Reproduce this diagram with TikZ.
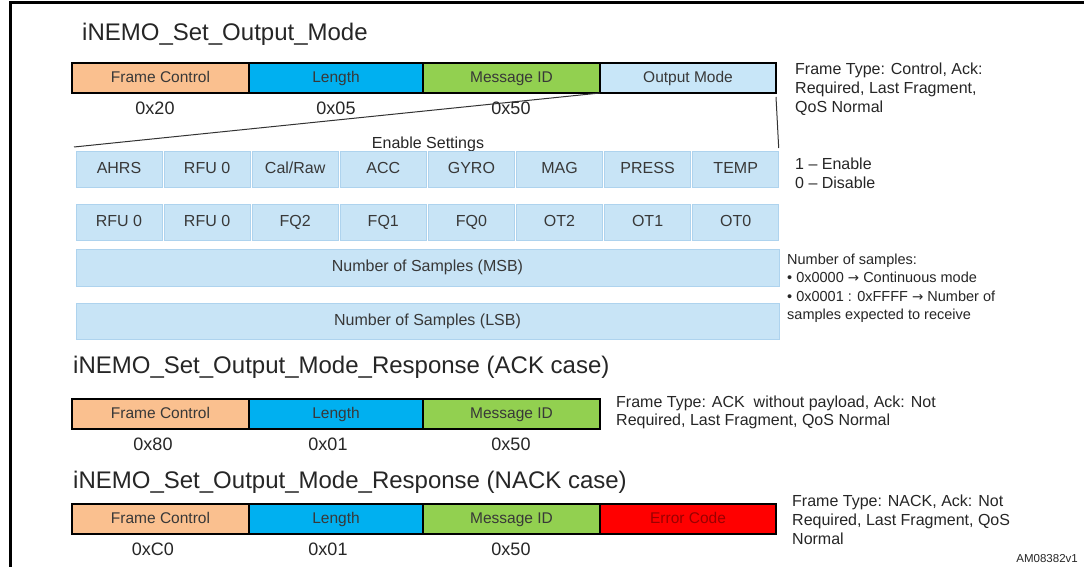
\documentclass[tikz,border=0pt]{standalone}
\usepackage{fontspec}
\setmainfont{Liberation Sans}
\newfontfamily\arrowfont{DejaVu Sans}
\usetikzlibrary{calc}
\definecolor{fcfill}{HTML}{FAC08F}
\definecolor{lenfill}{HTML}{00B0F0}
\definecolor{msgfill}{HTML}{92D050}
\definecolor{outfill}{HTML}{C8E6F8}
\definecolor{cellfill}{HTML}{C8E4F6}
\definecolor{cellborder}{HTML}{AED3EE}
\definecolor{errfill}{HTML}{FF0000}
\definecolor{errtext}{HTML}{9A0000}
\definecolor{labgray}{HTML}{383838}
\definecolor{linegray}{HTML}{333333}
\newcommand{\arr}{{\arrowfont\fontsize{13.5}{14}\selectfont →}}
\begin{document}
\begin{tikzpicture}[x=1pt,y=-1pt,
  seg/.style={draw=black, line width=1.3pt, inner sep=0pt, outer sep=0pt, anchor=north west,
    minimum height=30pt, text height=11.5pt, text depth=3pt, text=labgray, font=\fontsize{15.5}{18}\selectfont},
  cell/.style={draw=cellborder, line width=0.8pt, fill=cellfill, inner sep=0pt, outer sep=0pt,
    anchor=north west, minimum height=36pt, text height=11.5pt, text depth=3pt, text=labgray, font=\fontsize{16}{19}\selectfont},
  ttl/.style={anchor=base west, inner sep=0pt, text=black!85, font=\fontsize{24}{28}\selectfont},
  val/.style={anchor=base, inner sep=0pt, text=black!85, font=\fontsize{18}{21}\selectfont},
  note/.style={anchor=west, inner sep=0pt, align=left, text=black!85, font=\fontsize{16}{19}\selectfont},
  conn/.style={draw=linegray, line width=1pt}]
\useasboundingbox (0,0) rectangle (1084,567);
\fill[white] (0,0) rectangle (1084,567);
% frame border
\draw[line width=3pt] (10.5,567) -- (10.5,3) -- (1084,3);

% ---------- iNEMO_Set_Output_Mode ----------
\node[ttl] (t1) at (82,41) {iNEMO\_Set\_Output\_Mode};
\node[seg, fill=fcfill, minimum width=177pt] (fc1) at (72,63) {Frame Control};
\node[seg, fill=lenfill, minimum width=174pt] (len1) at (249,63) {Length};
\node[seg, fill=msgfill, minimum width=177pt] (msg1) at (423,63) {Message ID};
\node[seg, fill=outfill, minimum width=176pt] (out1) at (600,63) {Output Mode};
\node[val] (v11) at (155,115) {0x20};
\node[val] (v12) at (336,115) {0x05};
\node[val] (v13) at (511,115) {0x50};
\node[note] (n1) at (795,89) {Frame Type: Control, Ack:\\Required, Last Fragment,\\QoS Normal};

\node[anchor=base, inner sep=0pt, text=black!85, font=\fontsize{16}{19}\selectfont] (es) at (428,148.5) {Enable Settings};

\foreach \t [count=\i from 0] in {AHRS,RFU 0,Cal/Raw,ACC,GYRO,MAG,PRESS,TEMP}
  \node[cell, minimum width=86pt] (a\i) at ({76+\i*88.1},151) {\t};
\foreach \t [count=\i from 0] in {RFU 0,RFU 0,FQ2,FQ1,FQ0,OT2,OT1,OT0}
  \node[cell, minimum width=86pt] (b\i) at ({76+\i*88.1},204) {\t};
\node[cell, minimum width=703pt, minimum height=37pt] (msb) at (76,249) {Number of Samples (MSB)};
\node[cell, minimum width=703pt] (lsb) at (76,303) {Number of Samples (LSB)};

\draw[conn] (msg1.south east) -- ($(a0.north west)+(-2,-4)$);
\draw[conn] ($(out1.south east)+(0,4)$) -- ($(a7.north east)+(0,-3)$);

\node[note] (n2) at (795,173) {1 -- Enable\\0 -- Disable};
\node[note, font=\fontsize{14.5}{18.5}\selectfont] (n3) at (787,288)
  {Number of samples:\\\textbullet\ 0x0000 \arr\ Continuous mode\\\textbullet\ 0x0001 : 0xFFFF \arr\ Number of\\samples expected to receive};

% ---------- ACK case ----------
\node[ttl] (t2) at (73,373) {iNEMO\_Set\_Output\_Mode\_Response (ACK case)};
\node[seg, fill=fcfill, minimum width=177pt] (fc2) at (72,399) {Frame Control};
\node[seg, fill=lenfill, minimum width=174pt] (len2) at (249,399) {Length};
\node[seg, fill=msgfill, minimum width=177pt] (msg2) at (423,399) {Message ID};
\node[val] (v21) at (153,450) {0x80};
\node[val] (v22) at (328,450) {0x01};
\node[val] (v23) at (511,450) {0x50};
\node[note, font=\fontsize{16}{18}\selectfont] (n4) at (616,412) {Frame Type: ACK\ \ without payload, Ack: Not\\Required, Last Fragment, QoS Normal};

% ---------- NACK case ----------
\node[ttl] (t3) at (73,488) {iNEMO\_Set\_Output\_Mode\_Response (NACK case)};
\node[seg, fill=fcfill, minimum width=177pt] (fc3) at (72,504) {Frame Control};
\node[seg, fill=lenfill, minimum width=174pt] (len3) at (249,504) {Length};
\node[seg, fill=msgfill, minimum width=177pt] (msg3) at (423,504) {Message ID};
\node[seg, fill=errfill, text=errtext, minimum width=176pt] (err3) at (600,504) {Error Code};
\node[val] (v31) at (153,555) {0xC0};
\node[val] (v32) at (328,555) {0x01};
\node[val] (v33) at (511,555) {0x50};
\node[note] (n5) at (792,520) {Frame Type: NACK, Ack: Not\\Required, Last Fragment, QoS\\Normal};

\node[anchor=base east, inner sep=0pt, text=black!85, font=\fontsize{11.5}{13}\selectfont] (am) at (1078,562) {AM08382v1};
\end{tikzpicture}
\end{document}
